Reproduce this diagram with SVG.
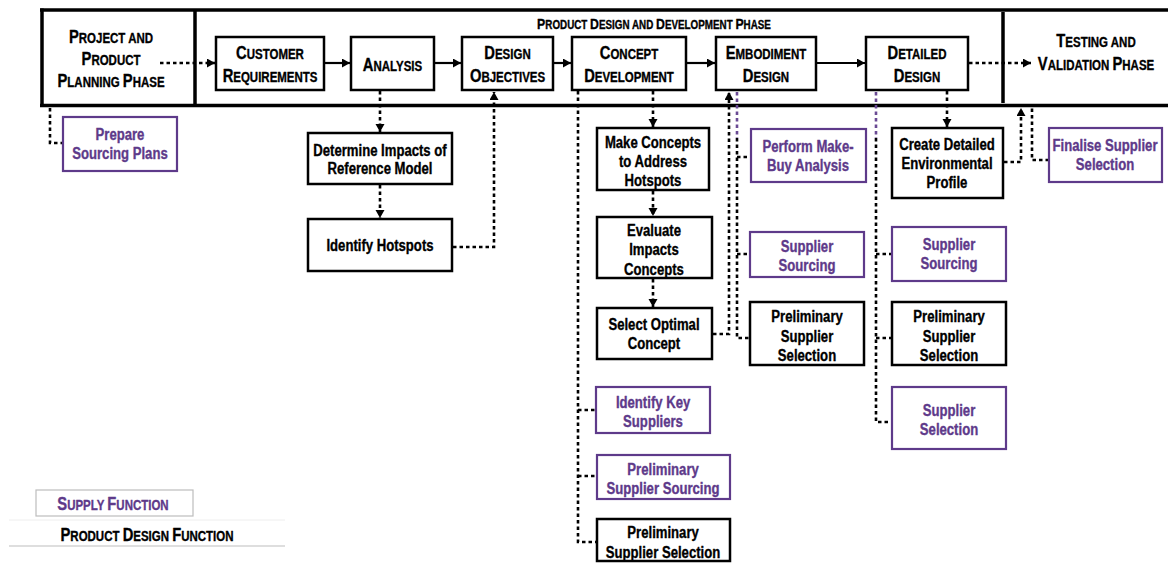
<svg xmlns="http://www.w3.org/2000/svg" width="1168" height="563" viewBox="0 0 1168 563">
  <style>
    text { font-family: "Liberation Sans", Arial, sans-serif; font-weight: bold; text-anchor: middle;
           stroke-width: 0.35; stroke-linejoin: round;
           transform-box: fill-box; transform-origin: center; transform: scaleX(0.82); }
    .body { font-size: 16px; fill: #000; stroke: #000; }
    .sup { font-size: 16px; fill: #5e3a8a; stroke: #5e3a8a; }
    .sc { font-size: 14px; fill: #000; stroke: #000; }
    .sc .c { font-size: 18px; }
    .hd { font-size: 12px; }
    .hd .c { font-size: 15px; }
    .frame { fill: none; stroke: #000; stroke-width: 3.5; }
    .box { fill: #fff; stroke: #000; stroke-width: 2.5; }
    .pbox { fill: #fff; stroke: #5e3a8a; stroke-width: 2.2; }
    .solid { fill: none; stroke: #000; stroke-width: 2.2; }
    .dot { fill: none; stroke: #000; stroke-width: 2.6; stroke-dasharray: 3.5 3; }
    .pdot { fill: none; stroke: #6a4a94; stroke-width: 2.6; stroke-dasharray: 3.5 3; }
  </style>
  <defs>
    <marker id="ah" markerUnits="userSpaceOnUse" markerWidth="10" markerHeight="10" refX="8" refY="4.5" orient="auto">
      <path d="M0,0 L8,4.5 L0,9 z" fill="#000"/>
    </marker>
  </defs>

  <!-- phase frame -->
  <g id="frame">
    <line class="frame" x1="40" y1="10" x2="1168" y2="10"/>
    <line class="frame" x1="40" y1="105.5" x2="1168" y2="105.5"/>
    <line class="frame" x1="42" y1="8.5" x2="42" y2="107" stroke-width="4"/>
    <line class="frame" x1="195" y1="10" x2="195" y2="104" stroke-width="3"/>
    <line class="frame" x1="1003" y1="12" x2="1003" y2="103"/>
  </g>

  <g id="phase-planning">
    <text class="sc" x="111" y="43"><tspan class="c">P</tspan>ROJECT AND</text>
    <text class="sc" x="111" y="65"><tspan class="c">P</tspan>RODUCT</text>
    <text class="sc" x="111" y="87"><tspan class="c">P</tspan>LANNING <tspan class="c">P</tspan>HASE</text>
  </g>
  <g id="phase-design">
    <text class="sc hd" x="654" y="29"><tspan class="c">P</tspan>RODUCT <tspan class="c">D</tspan>ESIGN AND <tspan class="c">D</tspan>EVELOPMENT <tspan class="c">P</tspan>HASE</text>
  </g>
  <g id="phase-testing">
    <text class="sc" x="1096" y="47"><tspan class="c">T</tspan>ESTING AND</text>
    <text class="sc" x="1096" y="70"><tspan class="c">V</tspan>ALIDATION <tspan class="c">P</tspan>HASE</text>
  </g>

  <!-- connectors -->
  <g id="connectors">
    <line class="dot" x1="160" y1="63" x2="215" y2="63" marker-end="url(#ah)"/>
    <line class="solid" x1="324" y1="63" x2="350" y2="63" marker-end="url(#ah)"/>
    <line class="solid" x1="434" y1="63" x2="461" y2="63" marker-end="url(#ah)"/>
    <line class="solid" x1="553" y1="63" x2="571" y2="63" marker-end="url(#ah)"/>
    <line class="solid" x1="686" y1="63" x2="715" y2="63" marker-end="url(#ah)"/>
    <line class="solid" x1="816" y1="63" x2="865" y2="63" marker-end="url(#ah)"/>
    <line class="dot" x1="969" y1="63" x2="1031" y2="63" marker-end="url(#ah)"/>

    <polyline class="dot" points="50,108 50,143 63,143"/>

    <line class="dot" x1="380" y1="91" x2="380" y2="132" marker-end="url(#ah)"/>
    <line class="dot" x1="380" y1="185" x2="380" y2="218" marker-end="url(#ah)"/>
    <polyline class="dot" points="453,247 494,247 494,92" marker-end="url(#ah)"/>

    <line class="dot" x1="653" y1="91" x2="653" y2="127" marker-end="url(#ah)"/>
    <line class="dot" x1="653" y1="191" x2="653" y2="216" marker-end="url(#ah)"/>
    <line class="dot" x1="653" y1="279" x2="653" y2="307" marker-end="url(#ah)"/>
    <polyline class="dot" points="713,334 729,334 729,92" marker-end="url(#ah)"/>

    <line class="pdot" x1="737" y1="92" x2="737" y2="138"/>
    <polyline class="dot" points="737,138 737,338 750,338"/>
    <line class="dot" x1="737" y1="157" x2="751" y2="157"/>
    <line class="dot" x1="737" y1="254" x2="750" y2="254"/>

    <polyline class="dot" points="578,91 578,542 597,542"/>
    <line class="dot" x1="578" y1="410" x2="596" y2="410"/>
    <line class="dot" x1="578" y1="476" x2="597" y2="476"/>

    <line class="pdot" x1="876" y1="92" x2="876" y2="138"/>
    <polyline class="dot" points="876,138 876,422 892,422"/>
    <line class="dot" x1="876" y1="254" x2="892" y2="254"/>
    <line class="dot" x1="876" y1="338" x2="892" y2="338"/>

    <line class="dot" x1="947" y1="91" x2="947" y2="127" marker-end="url(#ah)"/>
    <polyline class="dot" points="1004,162 1021,162 1021,108" marker-end="url(#ah)"/>
    <polyline class="dot" points="1049,160 1032,160 1032,107"/>
  </g>

  <!-- main design sequence -->
  <g id="customer-requirements">
    <rect class="box" x="216" y="37" width="108" height="53"/>
    <text class="sc" x="270" y="59"><tspan class="c">C</tspan>USTOMER</text>
    <text class="sc" x="270" y="82"><tspan class="c">R</tspan>EQUIREMENTS</text>
  </g>
  <g id="analysis">
    <rect class="box" x="351" y="37" width="83" height="53"/>
    <text class="sc" x="392.5" y="71"><tspan class="c">A</tspan>NALYSIS</text>
  </g>
  <g id="design-objectives">
    <rect class="box" x="462" y="37" width="91" height="53"/>
    <text class="sc" x="507.5" y="59"><tspan class="c">D</tspan>ESIGN</text>
    <text class="sc" x="507.5" y="82"><tspan class="c">O</tspan>BJECTIVES</text>
  </g>
  <g id="concept-development">
    <rect class="box" x="572" y="37" width="114" height="53"/>
    <text class="sc" x="629" y="59"><tspan class="c">C</tspan>ONCEPT</text>
    <text class="sc" x="629" y="82"><tspan class="c">D</tspan>EVELOPMENT</text>
  </g>
  <g id="embodiment-design">
    <rect class="box" x="716" y="37" width="100" height="53"/>
    <text class="sc" x="766" y="59"><tspan class="c">E</tspan>MBODIMENT</text>
    <text class="sc" x="766" y="82"><tspan class="c">D</tspan>ESIGN</text>
  </g>
  <g id="detailed-design">
    <rect class="box" x="866" y="37" width="102" height="53"/>
    <text class="sc" x="917" y="59"><tspan class="c">D</tspan>ETAILED</text>
    <text class="sc" x="917" y="82"><tspan class="c">D</tspan>ESIGN</text>
  </g>

  <!-- planning activity -->
  <g id="prepare-sourcing-plans">
    <rect class="pbox" x="63" y="117" width="114" height="54"/>
    <text class="sup" x="120" y="140">Prepare</text>
    <text class="sup" x="120" y="159">Sourcing Plans</text>
  </g>

  <!-- analysis activities -->
  <g id="determine-impacts">
    <rect class="box" x="308" y="133" width="144" height="51"/>
    <text class="body" x="380" y="156">Determine Impacts of</text>
    <text class="body" x="380" y="174">Reference Model</text>
  </g>
  <g id="identify-hotspots">
    <rect class="box" x="308" y="219" width="144" height="52"/>
    <text class="body" x="380" y="251">Identify Hotspots</text>
  </g>

  <!-- concept activities -->
  <g id="make-concepts">
    <rect class="box" x="597" y="128" width="112" height="62"/>
    <text class="body" x="653" y="148">Make Concepts</text>
    <text class="body" x="653" y="167">to Address</text>
    <text class="body" x="653" y="186">Hotspots</text>
  </g>
  <g id="evaluate-impacts">
    <rect class="box" x="597" y="217" width="115" height="61"/>
    <text class="body" x="654" y="236">Evaluate</text>
    <text class="body" x="654" y="255">Impacts</text>
    <text class="body" x="654" y="275">Concepts</text>
  </g>
  <g id="select-optimal-concept">
    <rect class="box" x="597" y="308" width="115" height="51"/>
    <text class="body" x="654" y="330">Select Optimal</text>
    <text class="body" x="654" y="349">Concept</text>
  </g>
  <g id="identify-key-suppliers">
    <rect class="pbox" x="596" y="387" width="114" height="46"/>
    <text class="sup" x="653" y="408">Identify Key</text>
    <text class="sup" x="653" y="427">Suppliers</text>
  </g>
  <g id="preliminary-supplier-sourcing">
    <rect class="pbox" x="597" y="455" width="133" height="44"/>
    <text class="sup" x="663" y="475">Preliminary</text>
    <text class="sup" x="663" y="494">Supplier Sourcing</text>
  </g>
  <g id="preliminary-supplier-selection-1">
    <rect class="box" x="597" y="519" width="133" height="42"/>
    <text class="body" x="663" y="538">Preliminary</text>
    <text class="body" x="663" y="558">Supplier Selection</text>
  </g>

  <!-- embodiment activities -->
  <g id="make-buy-analysis">
    <rect class="pbox" x="751" y="129" width="115" height="53"/>
    <text class="sup" x="808" y="152">Perform Make-</text>
    <text class="sup" x="808" y="171">Buy Analysis</text>
  </g>
  <g id="supplier-sourcing-1">
    <rect class="pbox" x="750" y="232" width="114" height="45"/>
    <text class="sup" x="807" y="252">Supplier</text>
    <text class="sup" x="807" y="271">Sourcing</text>
  </g>
  <g id="preliminary-supplier-selection-2">
    <rect class="box" x="750" y="302" width="114" height="63"/>
    <text class="body" x="807" y="322">Preliminary</text>
    <text class="body" x="807" y="342">Supplier</text>
    <text class="body" x="807" y="361">Selection</text>
  </g>

  <!-- detailed design activities -->
  <g id="environmental-profile">
    <rect class="box" x="892" y="128" width="111" height="70"/>
    <text class="body" x="947" y="150">Create Detailed</text>
    <text class="body" x="947" y="169">Environmental</text>
    <text class="body" x="947" y="188">Profile</text>
  </g>
  <g id="supplier-sourcing-2">
    <rect class="pbox" x="892" y="227" width="114" height="54"/>
    <text class="sup" x="949" y="250">Supplier</text>
    <text class="sup" x="949" y="269">Sourcing</text>
  </g>
  <g id="preliminary-supplier-selection-3">
    <rect class="box" x="892" y="302" width="114" height="63"/>
    <text class="body" x="949" y="322">Preliminary</text>
    <text class="body" x="949" y="342">Supplier</text>
    <text class="body" x="949" y="361">Selection</text>
  </g>
  <g id="supplier-selection">
    <rect class="pbox" x="892" y="387" width="114" height="62"/>
    <text class="sup" x="949" y="416">Supplier</text>
    <text class="sup" x="949" y="435">Selection</text>
  </g>
  <g id="finalise-supplier-selection">
    <rect class="pbox" x="1049" y="128" width="113" height="54"/>
    <text class="sup" x="1105" y="151">Finalise Supplier</text>
    <text class="sup" x="1105" y="170">Selection</text>
  </g>

  <!-- legend -->
  <g id="legend">
    <rect x="36" y="490" width="157" height="26" fill="#fff" stroke="#bdbdbd" stroke-width="1.2"/>
    <text class="sc" x="113" y="510" style="fill:#5e3a8a;stroke:#5e3a8a"><tspan class="c">S</tspan>UPPLY <tspan class="c">F</tspan>UNCTION</text>
    <line x1="9" y1="520" x2="285" y2="520" stroke="#eeeeee" stroke-width="1"/>
    <text class="sc" x="147" y="541"><tspan class="c">P</tspan>RODUCT <tspan class="c">D</tspan>ESIGN <tspan class="c">F</tspan>UNCTION</text>
    <line x1="9" y1="546" x2="285" y2="546" stroke="#bdbdbd" stroke-width="1.2"/>
  </g>
</svg>
